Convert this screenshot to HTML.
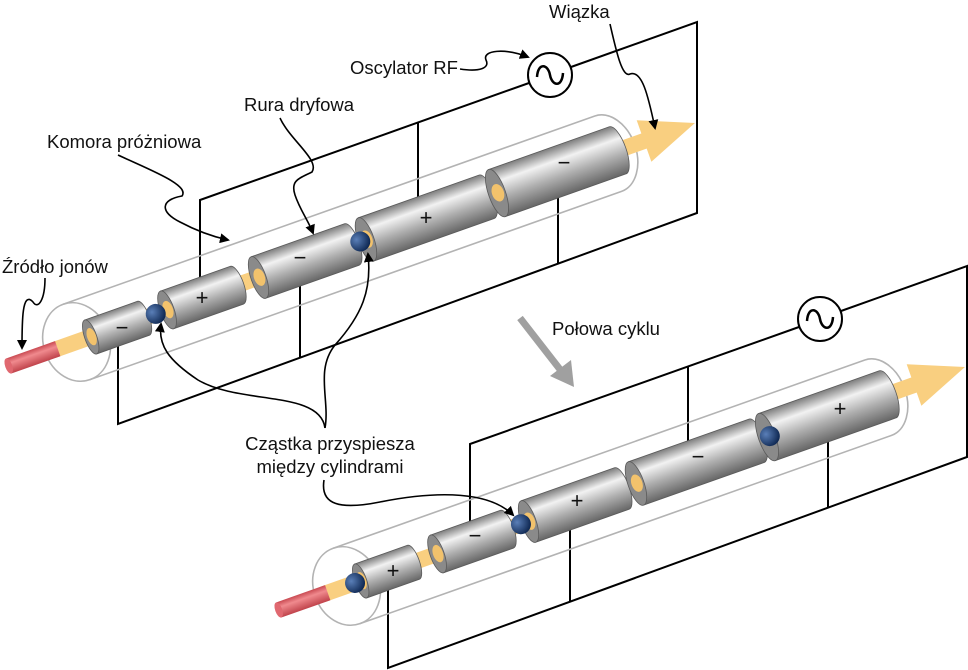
<!DOCTYPE html>
<html><head><meta charset="utf-8"><style>
html,body{margin:0;padding:0;background:#fff}
svg{display:block}
text{font-family:"Liberation Sans",sans-serif;fill:#111}
</style></head><body>
<svg width="968" height="670" viewBox="0 0 968 670" xmlns="http://www.w3.org/2000/svg">
<defs>
<linearGradient id="cyl" x1="0" y1="0" x2="0" y2="1">
<stop offset="0" stop-color="#7d7d7d"/><stop offset="0.28" stop-color="#f2f2f2"/><stop offset="0.6" stop-color="#b0b0b0"/><stop offset="1" stop-color="#666"/>
</linearGradient>
<linearGradient id="red" x1="0" y1="0" x2="0" y2="1">
<stop offset="0" stop-color="#c94a52"/><stop offset="0.35" stop-color="#f08a8e"/><stop offset="1" stop-color="#c0434b"/>
</linearGradient>
<radialGradient id="ball" cx="0.35" cy="0.35" r="0.7">
<stop offset="0" stop-color="#5a7fb8"/><stop offset="1" stop-color="#0d2650"/>
</radialGradient>
<marker id="ah" markerWidth="10" markerHeight="10" refX="8" refY="5" orient="auto" markerUnits="userSpaceOnUse">
<path d="M0,0 L10,5 L0,10 Z" fill="#000"/>
</marker>
<g id="frame" fill="none" stroke="#000" stroke-width="2">
<path d="M200,280 L200,200 L529,83"/>
<path d="M571,67 L697,22 L697,213 L118,424 L118,345"/>
<path d="M418,122 L418,215"/>
<path d="M300,357 L300,285"/>
<path d="M558,264 L558,175"/>
</g>
<g id="chamber" fill="none" stroke="#b3b3b3" stroke-width="1.6">
<ellipse cx="60" cy="0" rx="33" ry="40"/>
<path d="M60,-40 L624,-40 A28,40 0 0 1 624,40 L60,40"/>
</g>
<g id="beam">
<rect x="35" y="-8" width="635" height="16" fill="#f9cf80"/>
<path d="M662,-22 L716,0 L662,22 Z" fill="#f9cf80"/>
<rect x="-12" y="-8" width="52" height="16" fill="url(#red)"/>
<ellipse cx="-12" cy="0" rx="3.5" ry="8" fill="#e06870"/>
</g>
<g id="cyls" stroke="#5a5a5a" stroke-width="0.8">
<path d="M75,-18 L131,-18 A6,18 0 0 1 131,18 L75,18 Z" fill="url(#cyl)"/>
<ellipse cx="75" cy="0" rx="6" ry="18" fill="#8a8a8a"/><ellipse cx="76" cy="0" rx="4.5" ry="9" fill="#f2c26c" stroke="none"/>
<path d="M156,-20 L230,-20 A7,20 0 0 1 230,20 L156,20 Z" fill="url(#cyl)"/>
<ellipse cx="156" cy="0" rx="7" ry="20" fill="#8a8a8a"/><ellipse cx="157" cy="0" rx="5" ry="9" fill="#f2c26c" stroke="none"/>
<path d="M253,-22 L352,-22 A7.5,22 0 0 1 352,22 L253,22 Z" fill="url(#cyl)"/>
<ellipse cx="253" cy="0" rx="7.5" ry="22" fill="#8a8a8a"/><ellipse cx="254" cy="0" rx="5.5" ry="9" fill="#f2c26c" stroke="none"/>
<path d="M367,-23 L495,-23 A8,23 0 0 1 495,23 L367,23 Z" fill="url(#cyl)"/>
<ellipse cx="367" cy="0" rx="8" ry="23" fill="#8a8a8a"/><ellipse cx="368" cy="0" rx="5.5" ry="9" fill="#f2c26c" stroke="none"/>
<path d="M506,-25 L634,-25 A8.5,25 0 0 1 634,25 L506,25 Z" fill="url(#cyl)"/>
<ellipse cx="506" cy="0" rx="8.5" ry="25" fill="#8a8a8a"/><ellipse cx="507" cy="0" rx="6" ry="9" fill="#f2c26c" stroke="none"/>
</g>
</defs>

<use href="#frame"/>
<circle cx="550" cy="75" r="22" fill="#fff" stroke="#000" stroke-width="2"/>
<path d="M537,77 C538,62 548,64 550,75 C552,86 562,88 563,73" fill="none" stroke="#000" stroke-width="2.5"/>
<g transform="translate(20,362) rotate(-19.5)">
<use href="#chamber"/><use href="#beam"/><use href="#cyls"/>
<circle cx="144" cy="0" r="10" fill="url(#ball)"/>
<circle cx="361" cy="0" r="10" fill="url(#ball)"/>
</g>
<g font-size="22" text-anchor="middle">
<text x="122" y="335">−</text><text x="202" y="305">+</text><text x="300" y="265">−</text><text x="426" y="225">+</text><text x="564" y="170">−</text>
</g>

<g transform="translate(270,244)"><use href="#frame"/></g>
<circle cx="820" cy="319" r="22" fill="#fff" stroke="#000" stroke-width="2"/>
<path d="M807,321 C808,306 818,308 820,319 C822,330 832,332 833,317" fill="none" stroke="#000" stroke-width="2.5"/>
<g transform="translate(290,606) rotate(-19.5)">
<use href="#chamber"/><use href="#beam"/><use href="#cyls"/>
<circle cx="69" cy="0" r="10" fill="url(#ball)"/>
<circle cx="245" cy="0" r="10" fill="url(#ball)"/>
<circle cx="509" cy="0" r="10" fill="url(#ball)"/>
</g>
<g font-size="22" text-anchor="middle">
<text x="393" y="578">+</text><text x="475" y="543">−</text><text x="577" y="508">+</text><text x="698" y="464">−</text><text x="840" y="416">+</text>
</g>

<path d="M520,318 L562,372" stroke="#a0a0a0" stroke-width="7"/>
<path d="M550,376 L574,387 L571,360 Z" fill="#a0a0a0"/>

<g fill="none" stroke="#000" stroke-width="1.6" marker-end="url(#ah)">
<path d="M610,24 C616,50 622,78 630,74 C642,70 648,95 655,128"/>
<path d="M460,69 C480,72 490,68 486,60 C482,50 505,48 528,57"/>
<path d="M280,118 C290,140 320,160 312,172 C300,178 290,180 295,195 C300,210 308,220 313,233"/>
<path d="M118,155 C150,170 190,185 182,196 C160,200 160,212 180,222 C195,230 210,236 228,240"/>
<path d="M45,278 C45,300 38,310 33,302 C22,290 22,322 22,348"/>
<path d="M325,428 C320,390 240,405 198,380 C168,360 158,345 161,324"/>
<path d="M325,428 C330,400 315,370 335,345 C362,315 372,290 368,254"/>
<path d="M324,480 C320,505 340,510 380,502 C440,490 490,492 513,515"/>
</g>

<g font-size="18.5">
<text x="549" y="18">Wiązka</text>
<text x="350" y="74">Oscylator RF</text>
<text x="244" y="111">Rura dryfowa</text>
<text x="47" y="148">Komora próżniowa</text>
<text x="2" y="273">Źródło jonów</text>
<text x="552" y="335">Połowa cyklu</text>
<text x="330" y="450" text-anchor="middle">Cząstka przyspiesza</text>
<text x="330" y="473" text-anchor="middle">między cylindrami</text>
</g>
</svg>
</body></html>
